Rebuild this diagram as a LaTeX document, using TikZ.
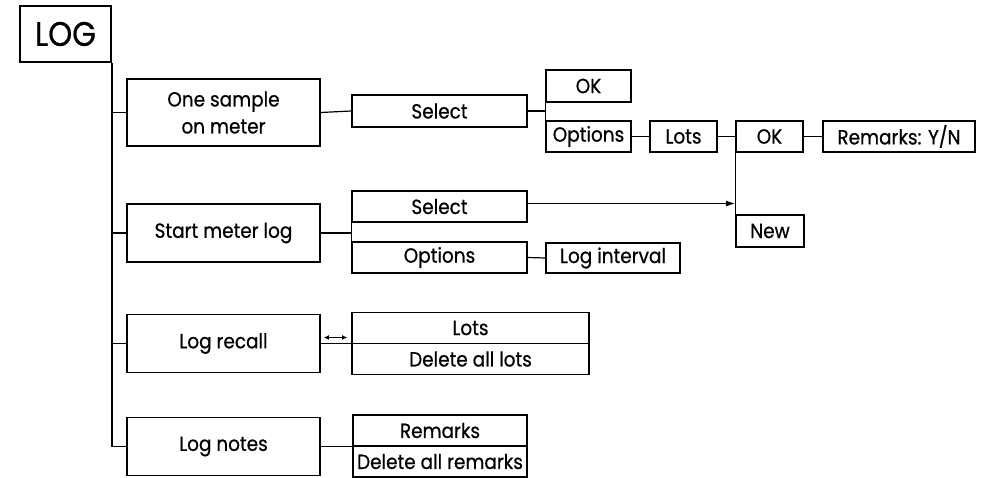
\documentclass[tikz,border=0pt]{standalone}
\usepackage{fontspec}
\setmainfont{Poppins}[FakeBold=0.6, FakeStretch=0.9]
\usetikzlibrary{arrows.meta}
\begin{document}
\begin{tikzpicture}[x=1pt, y=-1pt,
    box/.style={draw, line width=1.8pt, inner sep=0pt, align=center, font=\fontsize{20.5}{27}\selectfont},
    wire/.style={line width=1.2pt}]
  \useasboundingbox (0,0) rectangle (986,478);
  \node[box, minimum width=91, minimum height=56, font=\fontsize{34}{36}\selectfont] (log) at (65.5,34) {LOG};
  \node[box, minimum width=193, minimum height=67] (one) at (223.5,112.5) {One sample\\on meter};
  \node[box, minimum width=193, minimum height=58] (start) at (223.5,233) {Start meter log};
  \node[box, minimum width=193, minimum height=58] (recall) at (223.5,343.5) {Log recall};
  \node[box, minimum width=193, minimum height=58] (notes) at (223.5,446.5) {Log notes};
  \node[box, minimum width=175, minimum height=32] (sela) at (439.5,111) {Select};
  \node[box, minimum width=85, minimum height=32] (oka) at (588.5,86) {OK};
  \node[box, minimum width=85, minimum height=31] (opta) at (588.5,136.5) {Options};
  \node[box, minimum width=67, minimum height=31] (lots) at (683.5,136.5) {Lots};
  \node[box, minimum width=67, minimum height=31] (okb) at (769.5,136.5) {OK};
  \node[box, minimum width=152, minimum height=31] (remyn) at (899,136.5) {Remarks: Y/N};
  \node[box, minimum width=68, minimum height=32] (new) at (770,231) {New};
  \node[box, minimum width=175, minimum height=31] (selb) at (439.5,206.5) {Select};
  \node[box, minimum width=175, minimum height=31] (optb) at (439.5,257.5) {Options};
  \node[box, minimum width=134, minimum height=30] (intv) at (613,258) {Log interval};
  \node[box, minimum width=237, minimum height=31] (lotsr) at (470.5,328) {Lots};
  \node[box, minimum width=237, minimum height=31] (dell) at (470.5,359) {Delete all lots};
  \node[box, minimum width=174, minimum height=31] (remn) at (440,430.5) {Remarks};
  \node[box, minimum width=174, minimum height=31] (delr) at (440,461.5) {Delete all remarks};
  \draw[wire] (log.south east) |- (notes.west);
  \draw[wire] (log.south east |- one.west) -- (one.west);
  \draw[wire] (log.south east |- start.west) -- (start.west);
  \draw[wire] (log.south east |- recall.west) -- (recall.west);
  \draw[wire] (one.east) -- (sela.west);
  \draw[wire] (sela.east) -- (sela.east -| oka.west);
  \draw[wire] (oka.south west) -- (opta.north west);
  \draw[wire] (opta.east) -- (lots.west);
  \draw[wire] (lots.east) -- (okb.west);
  \draw[wire] (okb.east) -- (remyn.west);
  \draw[wire] (okb.south west) -- (new.north west);
  \draw[wire, -{Latex[length=9pt, width=6pt]}] ([yshift=3]selb.east) -- ([yshift=3]selb.east -| new.west);
  \draw[wire] (start.east) -- (start.east -| selb.west);
  \draw[wire] (selb.south west) -- (optb.north west);
  \draw[wire] (optb.east) -- (intv.west);
  \draw[wire] (recall.east) -- (recall.east -| dell.west);
  \draw[wire, {Latex[length=5pt, width=5pt]}-{Latex[length=5pt, width=5pt]}] ([xshift=3, yshift=6]recall.east) -- ([xshift=-4, yshift=6]recall.east -| dell.west);
  \draw[wire] (notes.east) -- (notes.east -| delr.west);
\end{tikzpicture}
\end{document}
